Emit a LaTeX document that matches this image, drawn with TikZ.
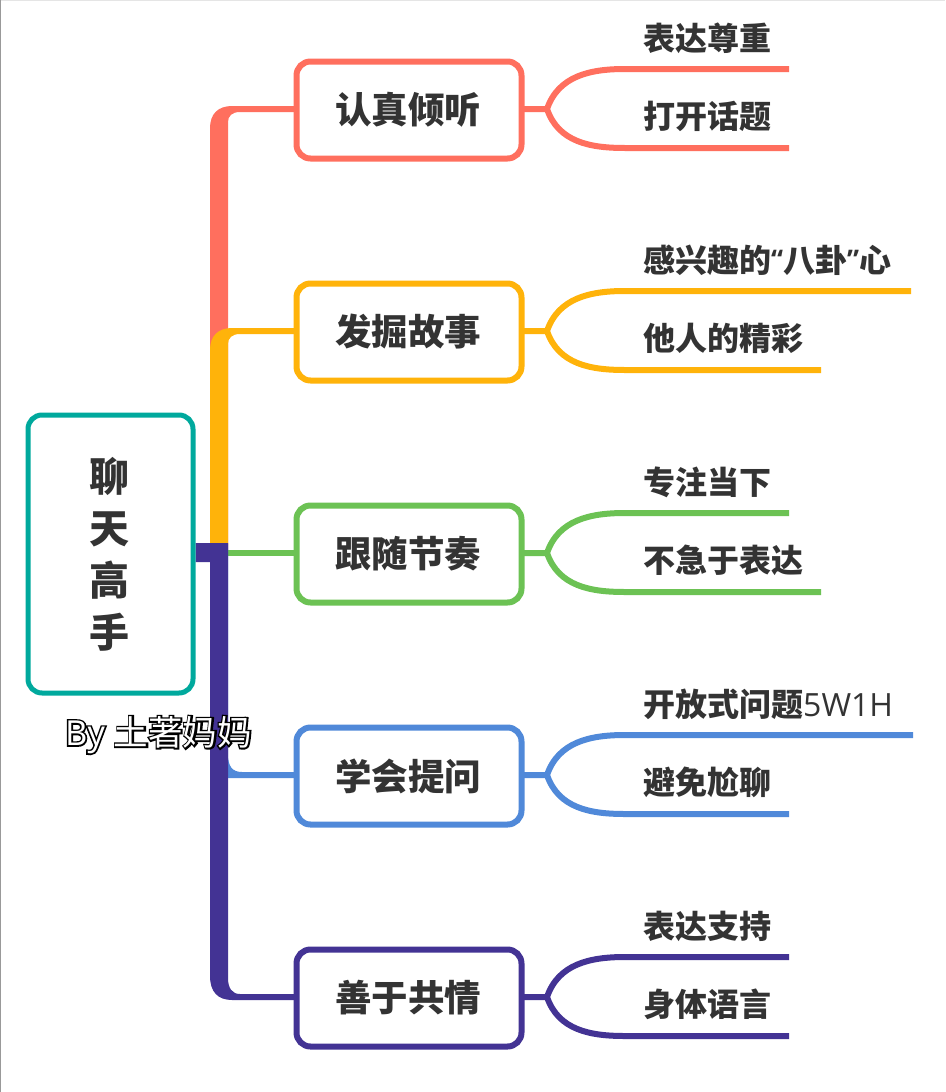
\documentclass[tikz,border=0pt]{standalone}
\usepackage{fontspec}
\usepackage{xcolor}
\usetikzlibrary{calc,positioning,backgrounds}
\setmainfont{Noto Sans CJK SC}
\newfontfamily\latinfont{Open Sans}
\newcommand{\smallquote}[1]{\raisebox{3pt}{\latinfont\fontsize{27}{30}\selectfont #1}}
\definecolor{mapred}{HTML}{FF6F5E}
\definecolor{mapyellow}{HTML}{FFB30A}
\definecolor{mapgreen}{HTML}{6CC254}
\definecolor{mapblue}{HTML}{5089D9}
\definecolor{mappurple}{HTML}{433394}
\definecolor{mapteal}{HTML}{00A99D}
\definecolor{maptext}{HTML}{333333}
\tikzset{
  rootbox/.style={draw=mapteal,line width=5pt,fill=white,rounded corners=14pt,minimum width=165pt,minimum height=278pt,inner sep=0pt,align=center,text=maptext,font=\fontsize{40}{52}\selectfont\bfseries},
  topicbox/.style={line width=6pt,fill=white,rounded corners=14pt,minimum width=225pt,minimum height=97pt,inner sep=0pt,outer sep=0pt,text=maptext,font=\fontsize{36.5}{40}\selectfont\bfseries},
  leaftext/.style={anchor=west,inner sep=0pt,text=maptext,font=\fontsize{32}{36}\selectfont\bfseries},
  forkline/.style={line width=6pt,line join=round},
  forkup/.style={out=71,in=180,distance=35pt},
  forkdown/.style={out=-71,in=180,distance=35pt}
}
\begin{document}
\begin{tikzpicture}[x=1pt,y=-1pt]
\useasboundingbox (0,0) rectangle (945,1092);
\node[rootbox] (root) at (110.5,554) {\hspace*{-3pt}聊\\\hspace*{-3pt}天\\\hspace*{-3pt}高\\\hspace*{-3pt}手};
\node[topicbox,draw=mapred] (t1) at (409,110) {\hspace*{-2pt}认真倾听};
\node[topicbox,draw=mapyellow] (t2) at (409,332) {\hspace*{-2pt}发掘故事};
\node[topicbox,draw=mapgreen] (t3) at (409,554) {\hspace*{-2pt}跟随节奏};
\node[topicbox,draw=mapblue] (t4) at (409,776) {\hspace*{-2pt}学会提问};
\node[topicbox,draw=mappurple] (t5) at (409,998) {\hspace*{-2pt}善于共情};
% trunk pieces, thin at the topic and wide at the root
\coordinate (base) at (219,553);
\begin{pgfonlayer}{background}
\fill[white] (0,0) rectangle (945,1092);
\fill[gray!20] (0,0) rectangle (945,1);
\fill[gray!80] (0,0) rectangle (1,1092);
\fill[mapred] ($(t1.west)+(0,-4)$) -- (232,106) .. controls (218,106) and (210,114) .. (210,128) -- (base -| 210,0) -- (base -| 228,0) -- (228,122) .. controls (228,116) and (232,112) .. (240,112) -- ($(t1.west)+(0,2)$) -- cycle;
\fill[mapyellow] ($(t2.west)+(0,-4)$) -- (232,328) .. controls (218,328) and (210,336) .. (210,350) -- (210,544) -- (228,544) -- (228,344) .. controls (228,338) and (232,334) .. (240,334) -- ($(t2.west)+(0,2)$) -- cycle;
\draw[mapgreen,line width=6pt] (base) -- (t3.west |- base);
\fill[mapblue] (228,544) -- (228,754) .. controls (228,766) and (232,772) .. (242,772) -- ($(t4.west)+(0,-4)$) -- ($(t4.west)+(0,2)$) -- (219,778) -- (219,544) -- cycle;
\fill[mappurple] (root.east |- 0,543) -- (228,543) -- (228,978) .. controls (228,988) and (232,994) .. (240,994) -- ($(t5.west)+(0,-4)$) -- ($(t5.west)+(0,2)$) -- (232,1000) .. controls (218,1000) and (210,992) .. (210,976) -- (210,562) -- (root.east |- 0,562) -- cycle;
\end{pgfonlayer}
% leaves
\node[leaftext] (a1) at (643,38) {表达尊重};
\node[leaftext] (b1) at (643,116) {打开话题};
\node[leaftext] (a2) at (643,260) {感兴趣的\smallquote{“}八卦\smallquote{”}心};
\node[leaftext] (b2) at (643,338) {他人的精彩};
\node[leaftext] (a3) at (643,482) {专注当下};
\node[leaftext] (b3) at (643,560) {不急于表达};
\node[leaftext] (a4) at (643,704) {开放式问题{\latinfont\mdseries 5W1H}};
\node[leaftext] (b4) at (643,782) {避免尬聊};
\node[leaftext] (a5) at (643,926) {表达支持};
\node[leaftext] (b5) at (643,1004) {身体语言};
% forks
\draw[forkline,mapred] (t1.east |- 0,109) -- (547,109) to[forkup] (625,69) -- (789,69);
\draw[forkline,mapred] (547,109) to[forkdown] (625,148) -- (789,148);
\draw[forkline,mapyellow] (t2.east |- 0,331) -- (547,331) to[forkup] (625,291) -- (911,291);
\draw[forkline,mapyellow] (547,331) to[forkdown] (625,370) -- (821,370);
\draw[forkline,mapgreen] (t3.east |- 0,553) -- (547,553) to[forkup] (625,513) -- (789,513);
\draw[forkline,mapgreen] (547,553) to[forkdown] (625,592) -- (821,592);
\draw[forkline,mapblue] (t4.east |- 0,775) -- (547,775) to[forkup] (625,735) -- (913,735);
\draw[forkline,mapblue] (547,775) to[forkdown] (625,814) -- (789,814);
\draw[forkline,mappurple] (t5.east |- 0,997) -- (547,997) to[forkup] (625,957) -- (789,957);
\draw[forkline,mappurple] (547,997) to[forkdown] (625,1036) -- (789,1036);
% watermark, black stroke under the white text
\node[anchor=west,inner sep=0pt,text=white,font=\fontsize{34.5}{38}\selectfont] (mark) at (65,735) {\rlap{\special{pdf:code q 1 Tr 3.2 w 0 G}{\latinfont By }土著妈妈\special{pdf:code Q}}{\latinfont By }土著妈妈};
\end{tikzpicture}
\end{document}
